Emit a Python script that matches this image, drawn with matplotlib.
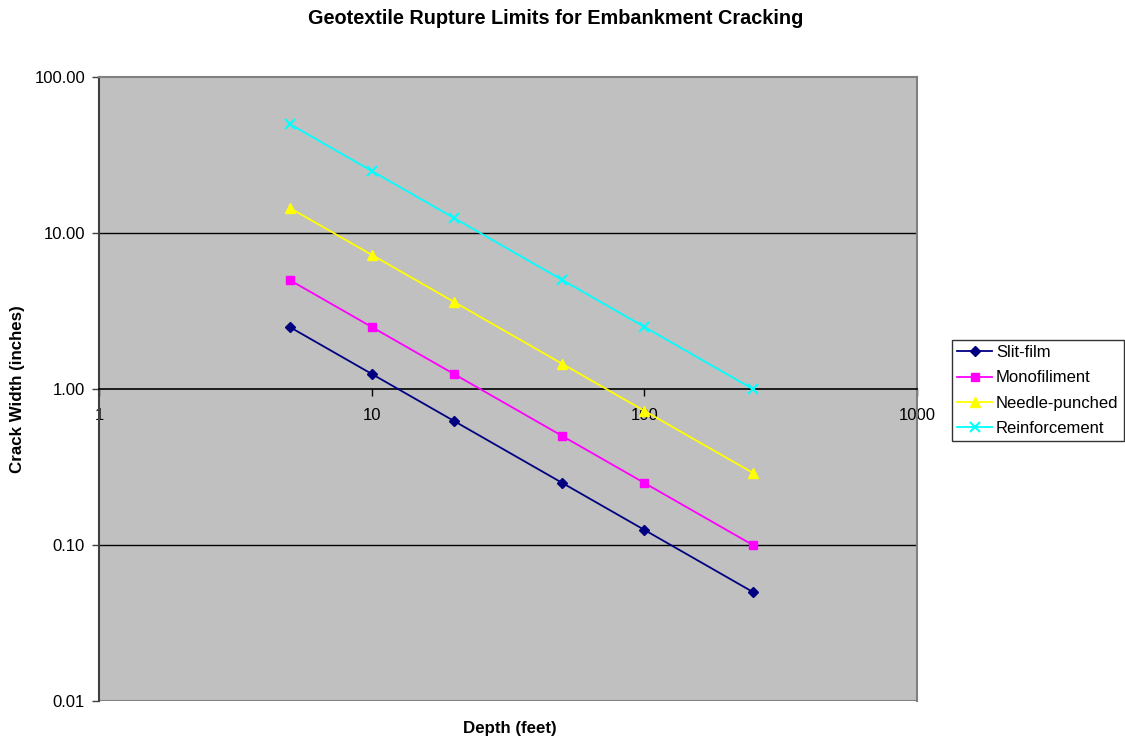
import matplotlib
matplotlib.use("Agg")
import matplotlib.pyplot as plt
from matplotlib.ticker import FixedLocator, FixedFormatter, NullLocator

plt.rcParams['font.family'] = ['Liberation Sans', 'DejaVu Sans']

depth = [5, 10, 20, 50, 100, 250]
slit_film = [2.5, 1.25, 0.625, 0.25, 0.125, 0.05]
monofiliment = [5.0, 2.5, 1.25, 0.5, 0.25, 0.1]
needle_punched = [14.5, 7.25, 3.625, 1.45, 0.725, 0.29]
reinforcement = [50.0, 25.0, 12.5, 5.0, 2.5, 1.0]

series = [
    ("Slit-film", slit_film, "#000080", "D", 5),
    ("Monofiliment", monofiliment, "#FF00FF", "s", 6),
    ("Needle-punched", needle_punched, "#FFFF00", "^", 7),
    ("Reinforcement", reinforcement, "#00FFFF", "x", 7),
]

x_ticks = [1, 10, 100, 1000]
x_labels = ["1", "10", "100", "1000"]
y_ticks = [0.01, 0.1, 1, 10, 100]
y_labels = ["0.01", "0.10", "1.00", "10.00", "100.00"]

fig = plt.figure(figsize=(11.25, 7.4), dpi=100)
ax = fig.add_axes([99/1125, 1-701/740, (917-99)/1125, (701-77)/740])
ax.set_facecolor("#C0C0C0")
ax.set_xscale("log")
ax.set_yscale("log")
ax.set_xlim(1, 1000)
ax.set_ylim(0.01, 100)

for y in [0.1, 10]:
    ax.axhline(y, color="black", lw=1.0, zorder=1)
ax.axhline(0.01, color="#808080", lw=1.5, zorder=1)

for name, vals, col, mk, ms in series:
    kw = dict(color=col, marker=mk, markersize=ms, lw=1.3, label=name, zorder=3)
    if mk == "x":
        kw["markeredgewidth"] = 1.5
    else:
        kw["markeredgecolor"] = col
    ax.plot(depth, vals, **kw)

ax.spines['bottom'].set_position(('data', 1))
ax.spines['bottom'].set_color("black")
ax.spines['bottom'].set_linewidth(1.2)
ax.spines['top'].set_color("#808080")
ax.spines['top'].set_linewidth(1.5)
ax.spines['right'].set_color("#808080")
ax.spines['right'].set_linewidth(1.5)
ax.spines['left'].set_color("#404040")
ax.spines['left'].set_linewidth(1.5)

ax.xaxis.set_major_locator(FixedLocator(x_ticks))
ax.xaxis.set_major_formatter(FixedFormatter(x_labels))
ax.xaxis.set_minor_locator(NullLocator())
ax.yaxis.set_major_locator(FixedLocator(y_ticks))
ax.yaxis.set_major_formatter(FixedFormatter(y_labels))
ax.yaxis.set_minor_locator(NullLocator())
ax.tick_params(axis='x', direction='out', length=5, width=1, pad=9, labelsize=12, color="black")
ax.tick_params(axis='y', direction='out', length=5, width=1, pad=5, labelsize=12, color="#404040")

fig.text(556/1125, 1-19/740, "Geotextile Rupture Limits for Embankment Cracking",
         ha="center", va="center", fontsize=14.3, fontweight="bold")
fig.text(510/1125, 1-729/740, "Depth (feet)", ha="center", va="center",
         fontsize=12.2, fontweight="bold")
fig.text(18/1125, 1-389/740, "Crack Width (inches)", ha="center", va="center",
         rotation=90, fontsize=12.2, fontweight="bold")

leg = fig.legend(loc="upper left", bbox_to_anchor=(952/1125, 1-340/740),
                 frameon=True, fancybox=False, fontsize=12, borderpad=0.3,
                 handlelength=2.1, handletextpad=0.24, labelspacing=0.62,
                 borderaxespad=0)
leg.get_frame().set_edgecolor("black")
leg.get_frame().set_linewidth(1.0)

fig.savefig("out.png", dpi=100)
